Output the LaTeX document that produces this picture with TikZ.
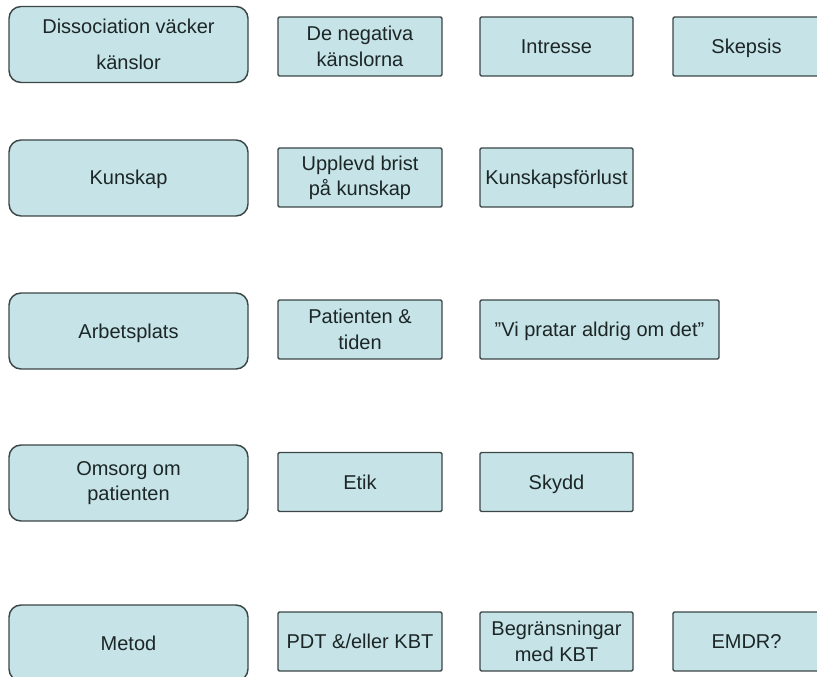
\documentclass[tikz,border=0pt]{standalone}
\usepackage{fontspec}
\setmainfont{Liberation Sans}
\usepackage{tikz}
\definecolor{boxfill}{HTML}{C6E3E7}
\definecolor{boxline}{HTML}{3C4646}
\definecolor{boxtext}{HTML}{1C2626}

\begin{document}
\begin{tikzpicture}[x=0.75pt,y=-0.75pt,
  every node/.style={font=\fontsize{15}{19}\selectfont,text=boxtext,align=center,inner sep=0pt},
  main node/.style={rectangle,rounded corners=9pt,draw=boxline,line width=1.1pt,fill=boxfill,
    minimum width=179.25pt,minimum height=57pt},
  side node/.style={rectangle,rounded corners=1pt,draw=boxline,line width=1.1pt,fill=boxfill,
    minimum width=123pt,minimum height=44.25pt},
  one/.style={text height=10.5pt,text depth=0pt},
  narrow/.style={minimum width=114.75pt},
  wide/.style={minimum width=179.25pt},
  last/.style={minimum width=110.25pt}]
  \useasboundingbox (0,0) rectangle (817,677);
  % row 1
  \node[main node] (1) at (128.5,44.5) {Dissociation väcker\\[8pt]känslor};
  \node[side node] (2) at (360,46.5) {De negativa\\känslorna};
  \node[side node,narrow,one] (3) at (556.5,46.5) {Intresse};
  \node[side node,last,one] (4) at (746.5,46.5) {Skepsis};
  % row 2
  \node[main node,one] (5) at (128.5,178) {Kunskap};
  \node[side node] (6) at (360,177.5) {Upplevd brist\\på kunskap};
  \node[side node,narrow,one] (7) at (556.5,177.5) {Kunskapsförlust};
  % row 3
  \node[main node,one] (8) at (128.5,331) {Arbetsplats};
  \node[side node] (9) at (360,329.5) {Patienten \&\\tiden};
  \node[side node,wide,one] (10) at (599.5,329.5) {"Vi pratar aldrig om det"};
  % row 4
  \node[main node] (11) at (128.5,483) {Omsorg om\\patienten};
  \node[side node,one] (12) at (360,482) {Etik};
  \node[side node,narrow,one] (13) at (556.5,482) {Skydd};
  % row 5
  \node[main node,one] (14) at (128.5,643) {Metod};
  \node[side node,one] (15) at (360,641.5) {PDT \&/eller KBT};
  \node[side node,narrow] (16) at (556.5,641.5) {Begränsningar\\med KBT};
  \node[side node,last,one] (17) at (746.5,641.5) {EMDR?};
\end{tikzpicture}
\end{document}
